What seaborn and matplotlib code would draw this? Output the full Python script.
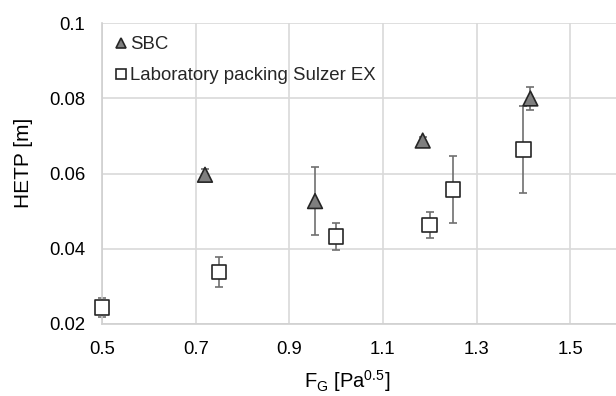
import matplotlib
matplotlib.use("Agg")
import matplotlib.pyplot as plt
import seaborn as sns
import pandas as pd
from matplotlib.ticker import FuncFormatter, FixedLocator

# ---- data ----
sbc_x = [0.72, 0.955, 1.185, 1.415]
sbc_y = [0.0597, 0.0527, 0.0688, 0.0800]
sbc_err = [0.0015, 0.0090, 0.0010, 0.0030]

lab_x = [0.50, 0.75, 1.00, 1.20, 1.25, 1.40]
lab_y = [0.0243, 0.0338, 0.0433, 0.0463, 0.0558, 0.0664]
lab_err = [0.0025, 0.0040, 0.0035, 0.0035, 0.0090, 0.0115]

series_names = ["SBC", "Laboratory packing Sulzer EX"]
x_ticks = [0.5, 0.7, 0.9, 1.1, 1.3, 1.5]
y_ticks = [0.02, 0.04, 0.06, 0.08, 0.1]

df = pd.DataFrame({
    "x": sbc_x + lab_x,
    "y": sbc_y + lab_y,
    "err": sbc_err + lab_err,
    "series": [series_names[0]] * len(sbc_x) + [series_names[1]] * len(lab_x),
})

sns.set_theme(style="whitegrid")
plt.rcParams["font.family"] = ["Liberation Sans", "DejaVu Sans"]
plt.rcParams["mathtext.fontset"] = "custom"
plt.rcParams["mathtext.rm"] = "Liberation Sans"

fig = plt.figure(figsize=(6.16, 3.96), dpi=100)
ax = fig.add_axes([102 / 616, 1 - 324 / 396, 515 / 616, (324 - 23.3) / 396])

err_color = "#6f6f6f"
for name, d in df.groupby("series", sort=False):
    ax.errorbar(d["x"], d["y"], yerr=d["err"], fmt="none", ecolor=err_color,
                elinewidth=1.2, capsize=3, capthick=1.2, zorder=2, clip_on=False)

sns.scatterplot(data=df, x="x", y="y", style="series", hue="series",
                markers={series_names[0]: "^", series_names[1]: "s"},
                palette={series_names[0]: "#7f7f7f", series_names[1]: "white"},
                s=112, edgecolor="#262626", linewidth=1.2, ax=ax, zorder=3,
                legend=True, clip_on=False)

ax.set_xlim(0.5, 1.6)
ax.set_ylim(0.02, 0.1)
ax.xaxis.set_major_locator(FixedLocator(x_ticks))
ax.yaxis.set_major_locator(FixedLocator(y_ticks))
ax.yaxis.set_major_formatter(FuncFormatter(lambda v, p: f"{v:g}"))
ax.xaxis.set_major_formatter(FuncFormatter(lambda v, p: f"{v:g}"))
ax.tick_params(axis="both", length=0, labelsize=13.3, colors="#000000", pad=12)

ax.grid(True, color="#d9d9d9", linewidth=1.2)
for s in ["top", "right"]:
    ax.spines[s].set_visible(False)
for s in ["left", "bottom"]:
    ax.spines[s].set_color("#d0d0d0")
    ax.spines[s].set_linewidth(1.2)

ax.set_xlabel(r"F$_\mathregular{G}$ [Pa$^\mathregular{0.5}$]", fontsize=14.5, color="black")
ax.set_ylabel("HETP [m]", fontsize=15, color="black")
ax.xaxis.set_label_coords((347 - 102) / 515, -(368 - 324) / 300.7)
ax.yaxis.set_label_coords(-(102 - 33) / 515, (324 - 163) / 300.7)

leg = ax.legend(loc="upper left", frameon=False, fontsize=13.4, markerscale=0.7,
                handlelength=0.6, handletextpad=0.2, labelspacing=0.75,
                borderaxespad=0.3, bbox_to_anchor=(0.0, 1.0))

fig.savefig("out.png", dpi=100)
